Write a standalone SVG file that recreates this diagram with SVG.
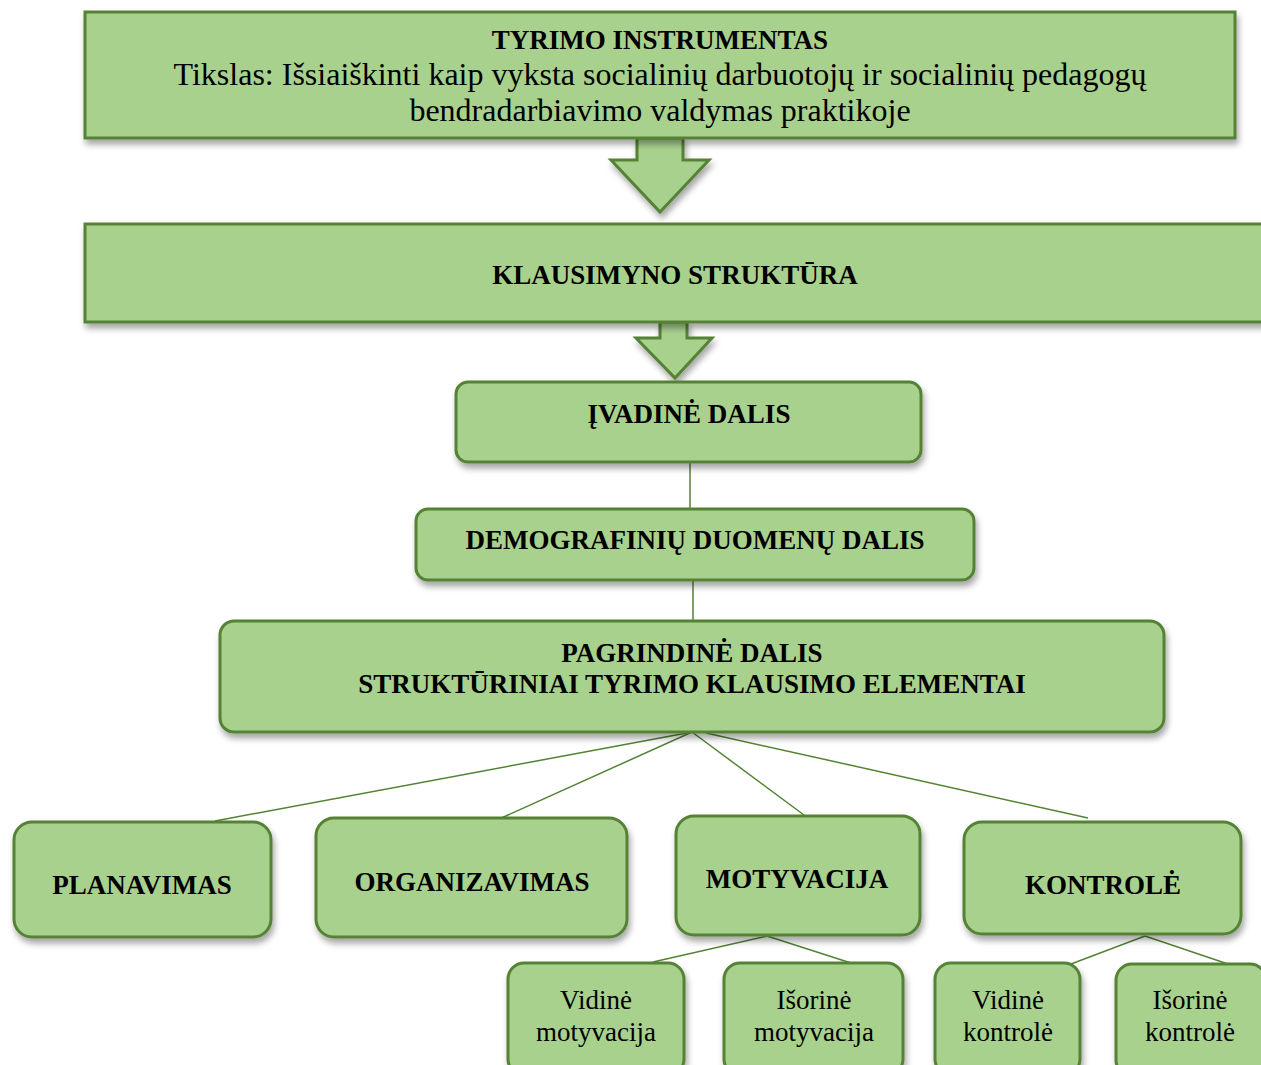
<svg xmlns="http://www.w3.org/2000/svg" width="1261" height="1065" viewBox="0 0 1261 1065">
<defs>
<style>
.box{fill:#a9d18e;stroke:#548235;stroke-width:3;filter:url(#sh)}
.b{font-family:"Liberation Serif","Times New Roman",serif;font-weight:bold;font-size:27px;fill:#000;text-anchor:middle}
.r{font-family:"Liberation Serif","Times New Roman",serif;font-size:27px;fill:#000;text-anchor:middle}
.t{font-family:"Liberation Serif","Times New Roman",serif;font-size:32px;fill:#000;text-anchor:middle}
.ln{stroke:#548235;stroke-width:1.5;fill:none}
</style>
<filter id="sh" x="-10%" y="-10%" width="125%" height="140%">
<feDropShadow dx="2" dy="5" stdDeviation="3" flood-color="#000" flood-opacity="0.35"/>
</filter>
</defs>
<rect width="1261" height="1065" fill="#fff"/>
<g id="connectors">
<line class="ln" x1="690" y1="462" x2="690" y2="509"/>
<line class="ln" x1="693" y1="580" x2="693" y2="621"/>
<line class="ln" x1="692" y1="732" x2="215" y2="821"/>
<line class="ln" x1="692" y1="732" x2="497" y2="820"/>
<line class="ln" x1="692" y1="732" x2="804" y2="815"/>
<line class="ln" x1="706" y1="733" x2="1088" y2="818"/>
<line class="ln" x1="767" y1="936" x2="653" y2="962"/>
<line class="ln" x1="767" y1="936" x2="851" y2="963"/>
<line class="ln" x1="1145" y1="936" x2="1071" y2="964"/>
<line class="ln" x1="1145" y1="936" x2="1228" y2="964"/>
</g>
<g id="arrow1">
<path class="box" d="M637,138 L683,138 L683,160 L709,160 L660,212 L611,160 L637,160 Z"/>
</g>
<g id="arrow2">
<path class="box" d="M660,322 L687,322 L687,338 L712,338 L675,378 L636,338 L660,338 Z"/>
</g>
<g id="tyrimo">
<rect class="box" x="85" y="12" width="1150" height="126"/>
<text class="b" x="660" y="49">TYRIMO INSTRUMENTAS</text>
<text class="t" x="660" y="85">Tikslas: Išsiaiškinti kaip vyksta socialinių darbuotojų ir socialinių pedagogų</text>
<text class="t" x="660" y="121">bendradarbiavimo valdymas praktikoje</text>
</g>
<g id="klausimyno">
<rect class="box" x="85" y="224" width="1190" height="98"/>
<text class="b" x="675" y="284">KLAUSIMYNO STRUKTŪRA</text>
</g>
<g id="ivadine">
<rect class="box" x="456" y="382" width="465" height="80" rx="12"/>
<text class="b" x="689" y="423">ĮVADINĖ DALIS</text>
</g>
<g id="demografiniu">
<rect class="box" x="416" y="509" width="558" height="71" rx="12"/>
<text class="b" x="695" y="549">DEMOGRAFINIŲ DUOMENŲ DALIS</text>
</g>
<g id="pagrindine">
<rect class="box" x="220" y="621" width="944" height="111" rx="14"/>
<text class="b" x="692" y="662">PAGRINDINĖ DALIS</text>
<text class="b" x="692" y="693">STRUKTŪRINIAI TYRIMO KLAUSIMO ELEMENTAI</text>
</g>
<g id="planavimas">
<rect class="box" x="14" y="822" width="257" height="115" rx="18"/>
<text class="b" x="142" y="894">PLANAVIMAS</text>
</g>
<g id="organizavimas">
<rect class="box" x="316" y="818" width="311" height="119" rx="18"/>
<text class="b" x="472" y="891">ORGANIZAVIMAS</text>
</g>
<g id="motyvacija">
<rect class="box" x="676" y="816" width="244" height="119" rx="18"/>
<text class="b" x="797" y="888">MOTYVACIJA</text>
</g>
<g id="kontrole">
<rect class="box" x="964" y="822" width="277" height="112" rx="18"/>
<text class="b" x="1103" y="894">KONTROLĖ</text>
</g>
<g id="vidine-motyvacija">
<rect class="box" x="508" y="963" width="176" height="112" rx="16"/>
<text class="r" x="596" y="1009">Vidinė</text>
<text class="r" x="596" y="1041">motyvacija</text>
</g>
<g id="isorine-motyvacija">
<rect class="box" x="724" y="963" width="179" height="112" rx="16"/>
<text class="r" x="814" y="1009">Išorinė</text>
<text class="r" x="814" y="1041">motyvacija</text>
</g>
<g id="vidine-kontrole">
<rect class="box" x="935" y="963" width="145" height="112" rx="16"/>
<text class="r" x="1008" y="1009">Vidinė</text>
<text class="r" x="1008" y="1041">kontrolė</text>
</g>
<g id="isorine-kontrole">
<rect class="box" x="1116" y="964" width="150" height="112" rx="16"/>
<text class="r" x="1190" y="1009">Išorinė</text>
<text class="r" x="1190" y="1041">kontrolė</text>
</g>
</svg>
